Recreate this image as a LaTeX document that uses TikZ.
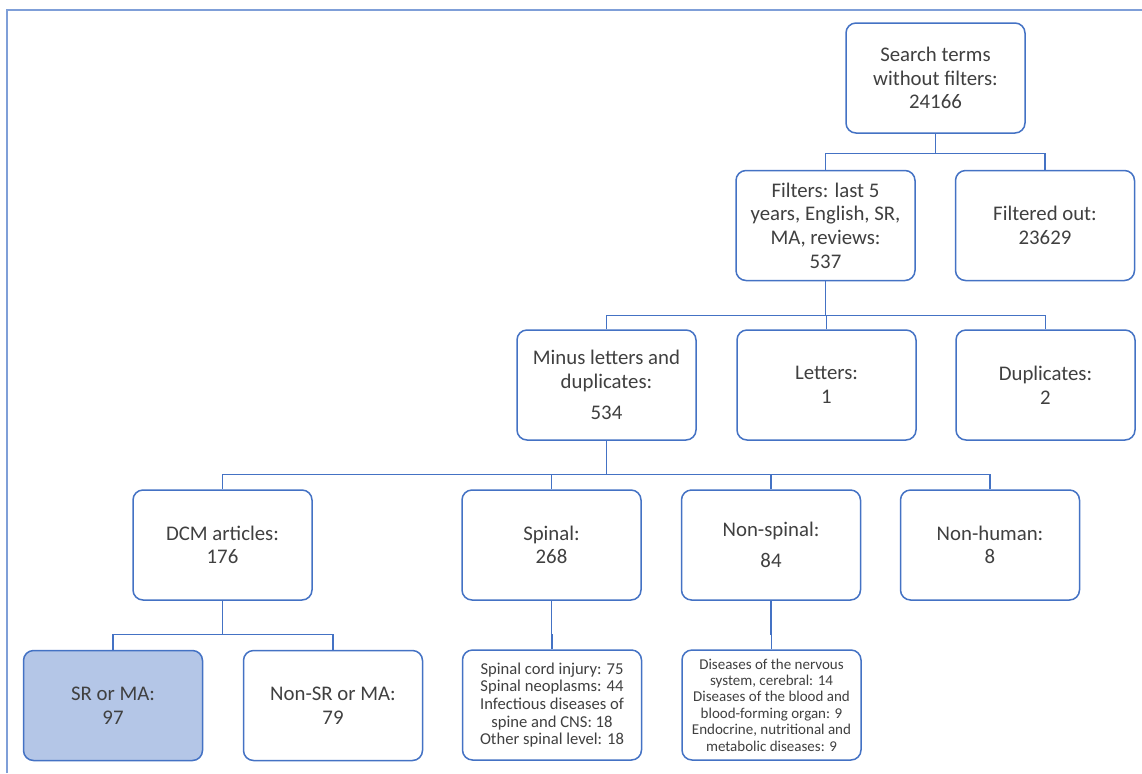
\documentclass[tikz,border=0pt]{standalone}
\usepackage{fontspec}
\setmainfont{Carlito}
\usetikzlibrary{calc}
\definecolor{MBlue}{HTML}{4472C4}
\definecolor{FBlue}{HTML}{7F9FD8}
\definecolor{LBlue}{HTML}{B4C6E7}
\definecolor{DText}{HTML}{404040}

\begin{document}
\begin{tikzpicture}[x=0.5pt, y=-0.5pt,
    box/.style={draw=MBlue, line width=0.75pt, rounded corners=5pt, fill=white,
        minimum width=89.5pt, minimum height=55pt, align=center, text=DText,
        inner sep=2pt, font=\fontsize{10.4}{11.8}\selectfont},
    smallbox/.style={box, font=\fontsize{8.3}{8.8}\selectfont},
    tinybox/.style={box, font=\fontsize{7.5}{8.2}\selectfont},
    link/.style={draw=MBlue, line width=0.7pt}]
\useasboundingbox (0,0) rectangle (1142,773);
\draw[FBlue, line width=1.3pt] (7,773) -- (7,10) -- (1142,10);

% search and filtering
\node[box] (search) at (935.5,78) {Search terms\\without filters:\\24166};
\node[box] (filt) at (825.5,225.5) {Filters: last 5\\years, English, SR,\\MA, reviews:\\537};
\node[box] (fout) at (1045,225.5) {Filtered out:\\23629};

% letters and duplicates removed
\node[box] (minus) at (606.5,385) {Minus letters and\\duplicates:\\[4pt]534};
\node[box] (letters) at (826.5,385) {Letters:\\1};
\node[box] (dups) at (1045.5,385) {Duplicates:\\2};

% categories
\node[box] (dcm) at (222.5,545) {DCM articles:\\176};
\node[box] (spinal) at (551.5,545) {Spinal:\\268};
\node[box] (nonsp) at (771,545) {Non-spinal:\\[4pt]84};
\node[box] (nonhum) at (990,545) {Non-human:\\8};

% bottom row
\node[box, fill=LBlue] (srma) at (113,705.5) {SR or MA:\\97};
\node[box] (nonsr) at (333,705.5) {Non-SR or MA:\\79};
\node[smallbox] (spdet) at (552,705) {Spinal cord injury: 75\\Spinal neoplasms: 44\\Infectious diseases of\\spine and CNS: 18\\Other spinal level: 18};
\node[tinybox] (nsdet) at (771.5,705) {Diseases of the nervous\\system, cerebral: 14\\Diseases of the blood and\\blood-forming organ: 9\\Endocrine, nutritional and\\metabolic diseases: 9};

\foreach \parent/\child/\h in {search/filt/8, search/fout/8,
    filt/minus/7, filt/letters/7, filt/dups/7,
    minus/dcm/7.5, minus/spinal/7.5, minus/nonsp/7.5, minus/nonhum/7.5,
    dcm/srma/7.5, dcm/nonsr/7.5, spinal/spdet/7.5, nonsp/nsdet/7.5}
    \draw[link] (\child.north) -- ++(0,\h pt) -| (\parent.south);
\end{tikzpicture}
\end{document}
